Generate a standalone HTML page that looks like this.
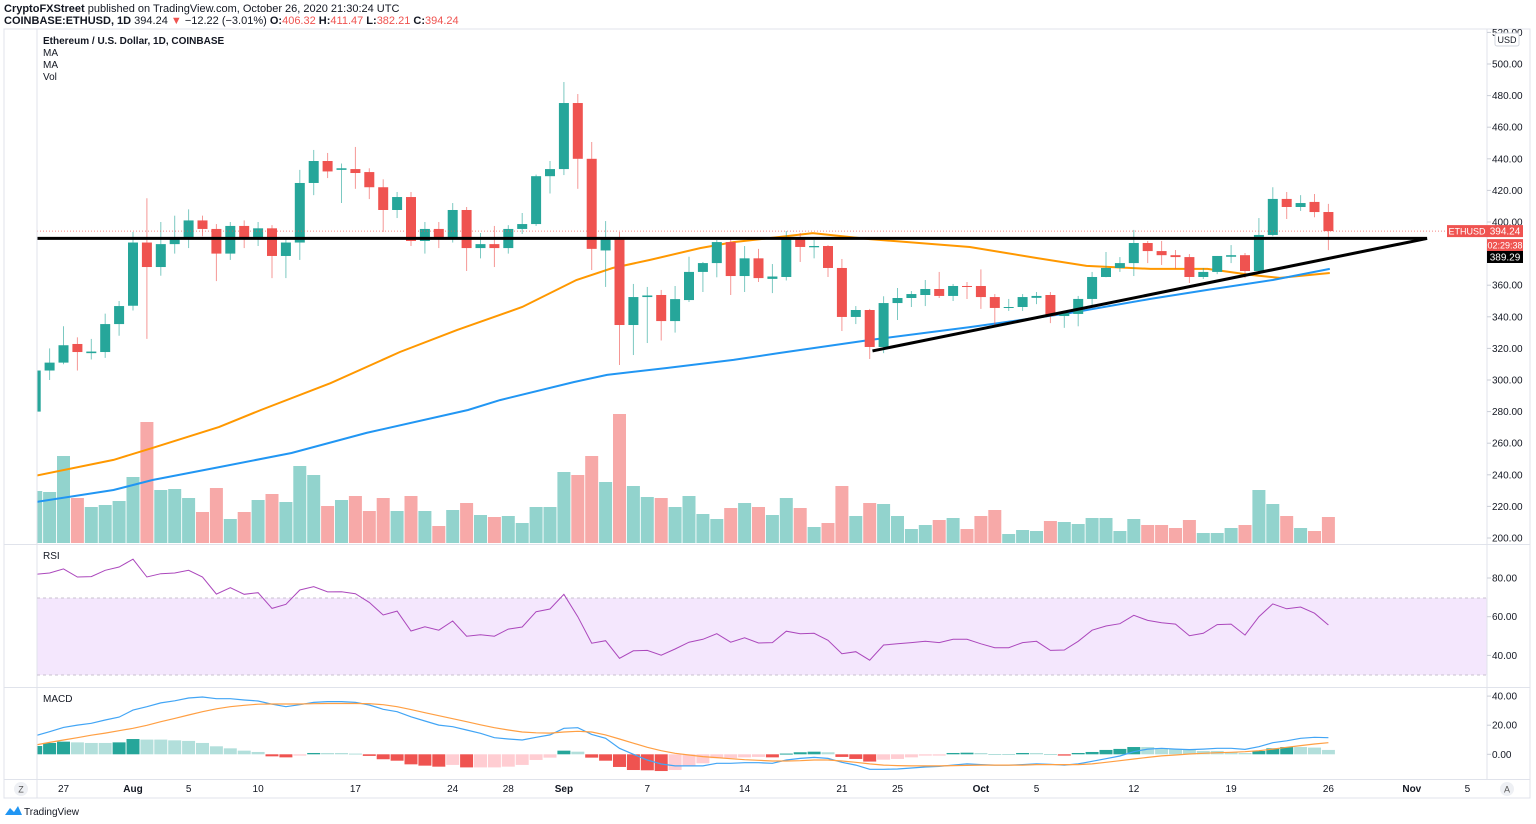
<!DOCTYPE html>
<html><head><meta charset="utf-8"><style>
html,body{margin:0;padding:0;background:#fff;}
svg{display:block;font-family:"Liberation Sans",sans-serif;}
</style></head><body>
<svg id="chart" width="1536" height="824" viewBox="0 0 1536 824">
<defs><clipPath id="plotclip"><rect x="37.5" y="29" width="1449" height="750"/></clipPath></defs>
<g id="frame">
<rect x="4" y="29" width="1526" height="769" fill="#fff" stroke="#e0e3eb" stroke-width="1"/>
<line x1="37" y1="29" x2="37" y2="798" stroke="#e0e3eb"/>
<line x1="1487" y1="29" x2="1487" y2="779" stroke="#e0e3eb"/>
<line x1="4" y1="544.5" x2="1530" y2="544.5" stroke="#e0e3eb"/>
<line x1="4" y1="687.5" x2="1530" y2="687.5" stroke="#e0e3eb"/>
<line x1="4" y1="779.5" x2="1530" y2="779.5" stroke="#e0e3eb"/>
</g>
<g font-size="11" fill="#131722">
<text x="4" y="12"><tspan font-weight="bold">CryptoFXStreet</tspan> published on TradingView.com, October 26, 2020 21:30:24 UTC</text>
<text x="4" y="24"><tspan font-weight="bold">COINBASE:ETHUSD, 1D</tspan> 394.24 <tspan fill="#ef5350">▼</tspan> −12.22 (−3.01%) <tspan font-weight="bold">O:</tspan><tspan fill="#ef5350">406.32</tspan> <tspan font-weight="bold">H:</tspan><tspan fill="#ef5350">411.47</tspan> <tspan font-weight="bold">L:</tspan><tspan fill="#ef5350">382.21</tspan> <tspan font-weight="bold">C:</tspan><tspan fill="#ef5350">394.24</tspan></text>
</g>
<g font-size="10" fill="#131722">
<text x="43" y="44" font-weight="bold">Ethereum / U.S. Dollar, 1D, COINBASE</text>
<text x="43" y="56">MA</text>
<text x="43" y="68">MA</text>
<text x="43" y="80">Vol</text>
<text x="43" y="559">RSI</text>
<text x="43" y="702">MACD</text>
</g>
<rect x="37.5" y="598" width="1449" height="77" fill="#f4e7fd"/>
<line x1="37" y1="598" x2="1487" y2="598" stroke="#c9c1cf" stroke-dasharray="3,3"/>
<line x1="37" y1="675" x2="1487" y2="675" stroke="#c9c1cf" stroke-dasharray="3,3"/>
<g clip-path="url(#plotclip)">
<g id="vol"></g>
<g id="ma"></g>
<g id="candles"></g>
<g id="lines"></g>
<g id="rsi"></g>
<g id="macd"></g>
</g>
<g id="axes" font-size="10" fill="#131722"></g>
<g>
<circle cx="21" cy="789" r="7" fill="#eef0f4"/>
<text x="21" y="792.5" font-size="9" text-anchor="middle" fill="#555">Z</text>
<circle cx="1507" cy="789" r="7" fill="#eef0f4"/>
<text x="1507" y="792.5" font-size="9" text-anchor="middle" fill="#555">A</text>
</g>
<g>
<path d="M5 815 L10 808 L14 812 L18 806 L22 815 Z" fill="#2196f3"/>
<text x="24" y="815" font-size="10" fill="#131722">TradingView</text>
</g>
</svg>
<script>
const opens=[280,306,311,322.8,317,317.7,335.4,347,387,371.5,386,390,401,395.6,380,397.5,390,396,378.5,387,424.7,438.6,433,433.5,431.6,422,407.6,415.8,388,395.6,390.5,407.6,383.5,386,383.5,395.6,398.7,429,433.5,475.3,440,382,389,334.8,352.5,353.8,337.3,350.6,368.4,374,387.3,365.8,377,364,365.2,389.2,384,384.8,370.9,339.9,344.3,320.9,348.7,351.9,353.8,357.6,353.2,359.5,359.5,352.5,345.6,346.2,352,353.8,340.5,341.8,351.3,365.2,370.9,374,386.7,381.6,379,377.8,365.2,368.4,378,379,369,391.8,414.6,409.5,412.7,406.32];
const highs=[307,320,334,327,326,342,350,393.7,415,400,404,408,404,398.7,400,401,400,398,389,433,445.6,443.7,437,447.5,434,427,419,419,400,400,412,409.5,393,397.5,398,405.7,430,438.6,488.6,481,450.6,400.6,393.7,360.8,358.9,357,359.5,378,374.7,388.6,390.5,384.8,383,373.4,394.3,393,388.6,385.4,376.6,346.8,345,353,358.2,356.3,363.3,368.4,360.8,362,370,354.4,351.3,354.4,355.7,355.7,343.7,353.2,368.4,381,377.8,395,388,388,382.3,379.7,370.9,378.5,385.4,380.4,402.5,422,419,417,417.7,411.47];
const lows=[278,300,310,306,313,314,328,344,326,366,380,383.5,391,362.6,376,383.5,384.8,364.5,364.5,376,417,427.8,412,421,414.5,393.7,402.5,384.8,380,383.5,387,369,377,371.5,380,392.4,397.5,418,429.7,421,369.6,358.9,309.5,315.8,323.4,325,330,349.4,355.7,365,353.8,355.7,362,355,363,374.7,377,365.2,331,335.4,313.3,317,338,346.2,346.8,351.9,350,351.3,345,334,343.7,343.7,348,336,333,334,346.8,365,368.4,365.8,374,372.8,370.3,361.4,363.9,367,374,364.5,368.4,391,401.9,407,403,382.21];
const closes=[306,311,322,317.7,318,335.4,346.8,387,371.5,386,390,401,395.6,380,397.5,390,396,378.5,387,424.7,438.6,432,434,431,422,407.6,415.8,388,395.6,390.5,407.6,383.5,386,383.5,395.6,398.7,429,433.5,475.3,440,383,389,334.8,352.5,353.5,337.3,351.2,368.4,374,387.3,365.8,377,364.5,365.5,389.2,384.2,384.8,370.9,339.9,344.3,320.9,348.7,351.9,354.4,357.6,353.2,359.5,359,352.5,345.6,346.2,352.5,353.2,340.5,342.4,351.3,365.2,370.9,374,386.7,381.6,379,377.8,365.2,368.4,378.5,379,369,391.8,414.6,409.5,412,406.3,394.24];
const volumes=[52,51,87,45,36,38,42,66,121,53,54,45,31,55,24,31,43,49,41,77,68,37,43,47,32,45,32,47,32,17,33,40,28,26,27,20,36,36,71,68,87,61,129,57,46,45,36,47,29,24,35,40,36,28,45,35,16,20,57,27,40,39,27,14,18,23,25,14,27,33,9,13,12,22,21,19,25,25,12,24,18,18,15,23,10,10,15,18,53,39,27,15,12,26];
const maFastIdx=[0,5.6,8.4,13.2,16.2,21.2,26.2,30.3,35,38.9,41.5,44.2,47.8,50.2,53.5,55.9,60,67.2,72,75.6,80.2,84.3,87.4,89.5,93.1];
const maFastVal=[239.4,249.4,257,270.3,281,298,317.7,331.6,346.2,363.3,370.9,376,383.5,387.3,390.5,393,389.2,384.2,377.2,372.2,370.3,370.3,366.5,364.6,367.7];
const maSlowIdx=[0,5.6,8.4,13.2,18.4,23.8,31.1,33.4,38.7,41.1,45.4,50.2,53.5,60,67.2,74.4,80.2,84.3,89,93.1];
const maSlowVal=[222.8,230.4,236.7,244.9,253.8,266.5,281,287.3,298.7,303.2,307.6,312.7,317.1,325.3,333.5,342.4,351.3,357,363.3,370.3];
const rsiVals=[81.9,82.6,84.7,80.5,80.7,84.0,85.7,89.7,80.5,82.2,82.6,84.0,80.5,71.7,75.0,71.6,72.4,64.3,66.4,73.8,75.5,72.8,72.9,71.9,67.4,60.9,62.9,52.6,54.8,53.0,57.8,49.9,50.7,49.9,53.6,54.7,62.6,64.0,71.6,60.0,46.3,47.6,38.5,42.4,42.6,40.1,43.3,46.8,48.3,51.2,46.8,49.1,46.4,46.6,52.5,51.2,51.4,47.8,40.9,41.9,37.5,45.4,46.0,46.6,47.3,46.6,48.3,48.3,46.0,44.0,44.0,46.6,47.3,42.6,42.8,47.3,53.0,55.2,56.4,60.7,58.1,56.9,56.2,50.2,51.4,55.9,56.2,50.5,60.0,66.6,64.1,65.0,61.8,55.7];
const macdVals=[12.8,15.5,18.5,20.1,21.3,23.6,25.6,30.4,32.7,35.3,36.8,38.7,39.4,38.2,38.2,37.3,36.6,34.4,32.7,34.1,35.7,36.2,36.2,35.7,33.9,30.9,29.3,25.8,22.9,20.1,19.0,16.7,14.4,11.4,10.5,9.8,11.7,13.3,17.9,18.3,13.7,11.0,4.1,0,-3.9,-6.7,-8.0,-8.0,-8.0,-6.2,-6.2,-5.8,-5.8,-6.2,-3.9,-2.8,-2.1,-2.8,-5.5,-7.4,-10.3,-10.3,-10.1,-9.4,-8.7,-8.3,-7.4,-6.6,-7.1,-7.4,-7.4,-7.1,-6.6,-6.9,-7.4,-6.6,-4.8,-3.0,-1.2,1.8,3.6,4.1,3.6,3.2,3.6,4.1,4.1,3.4,5.2,8.0,9.3,11.0,11.7,11.4];
const signalVals=[6.4,8.2,9.8,11.4,13.1,14.6,16.2,17.9,19.9,22.4,24.7,27.0,29.3,31.3,32.7,33.7,34.4,34.6,34.6,34.6,34.8,34.9,34.9,34.9,34.8,34.1,32.7,30.7,28.6,26.5,24.5,22.4,20.3,18.3,16.7,15.3,14.8,14.6,15.3,15.8,15.3,13.3,10.5,7.6,4.8,2.5,0.7,-0.5,-1.6,-2.3,-3.0,-3.7,-4.1,-4.6,-4.6,-4.4,-3.9,-3.9,-4.6,-5.5,-6.6,-7.4,-7.8,-8.0,-8.0,-8.0,-7.8,-7.6,-7.4,-7.4,-7.4,-7.4,-7.1,-7.1,-7.1,-7.1,-6.6,-5.5,-4.4,-3.2,-2.1,-1.1,-0.5,0.2,0.7,1.1,1.4,1.8,2.5,3.6,4.8,6.0,7.1,8.0];
const histVals=[5.7,7.8,8.7,8.2,7.8,7.8,8.2,10.5,10.1,10.1,9.6,9.2,7.8,5.5,4.1,2.5,1.6,-1.4,-2.1,-0.9,0.9,0.9,0.9,0.5,-1.1,-3.4,-4.4,-6.9,-7.8,-8.5,-7.3,-9.0,-9.0,-9.0,-8.5,-7.3,-3.9,-2.3,2.5,1.8,-2.3,-4.4,-8.7,-10.8,-11.0,-11.5,-10.8,-7.8,-6.2,-2.7,-2.7,-2.1,-1.8,-2.1,0.5,1.4,1.8,1.4,-1.8,-3.2,-5.0,-3.7,-3.2,-2.1,-0.9,-0.9,0.9,1.1,0.9,0.2,0.2,0.9,0.9,0.2,-0.9,0.9,1.6,3.0,3.7,5.0,5.0,4.1,3.7,3.2,2.3,2.3,1.4,0.9,2.3,4.1,5.0,5.0,4.6,3.0];
const priceTicks=[200,220,240,260,280,300,320,340,360,380,400,420,440,460,480,500,520];
const rsiTicks=[80,60,40];
const macdTicks=[40,20,0];
const timeTickIdx=[2,7,11,16,23,30,34,38,44,51,58,62,68,72,79,86,93,99,103];
const timeTickLabels=["27","Aug","5","10","17","24","28","Sep","7","14","21","25","Oct","5","12","19","26","Nov","5"];
const resistanceLevel=389.6;
const trendStart=[60.2,318.4], trendEnd=[100.1,389.6];

const NS='http://www.w3.org/2000/svg';
const X=i=>35.7+13.9*i;
const PY=p=>538-(p-200)*1.58;
const VY=v=>543-v;
const RY=v=>616.7-(v-60)*1.935;
const MY=v=>754.3-v*1.455;
function mk(tag,attrs,parent){const e=document.createElementNS(NS,tag);for(const k in attrs)e.setAttribute(k,attrs[k]);parent.appendChild(e);return e;}
const G=id=>document.getElementById(id);
const UP='#26a69a',DN='#ef5350';

const gv=G('vol');


volumes.forEach((v,i)=>{const up=closes[i]>=opens[i];
 const r=mk('rect',{x:X(i)-6.5,y:VY(v),width:13,height:v,fill:up?'#92d3cd':'#f7a9a8'},gv);
 
 });

const gm=G('ma');


const pf=maFastIdx.map((d,k)=>X(d).toFixed(1)+','+PY(maFastVal[k]).toFixed(1)).join(' ');
const l1=mk('polyline',{points:pf,fill:'none',stroke:'#ff9800','stroke-width':2},gm);


const ps=maSlowIdx.map((d,k)=>X(d).toFixed(1)+','+PY(maSlowVal[k]).toFixed(1)).join(' ');
const l2=mk('polyline',{points:ps,fill:'none',stroke:'#2196f3','stroke-width':2},gm);



const gc=G('candles');


opens.forEach((o,i)=>{const c=closes[i],up=c>=o,col=up?UP:DN,x=X(i);
 const g=mk('g',{},gc);
 
 
 mk('line',{x1:x,x2:x,y1:PY(highs[i]),y2:PY(lows[i]),stroke:col,'stroke-width':1,opacity:0.6},g);
 const top=PY(Math.max(o,c)),bot=PY(Math.min(o,c));
 mk('rect',{x:x-5,y:top,width:10,height:Math.max(1,bot-top),fill:col},g);});

const gl=G('lines');
const cp=mk('line',{x1:37,x2:1487,y1:PY(closes[closes.length-1]),y2:PY(closes[closes.length-1]),stroke:'#ef5350','stroke-dasharray':'1,2','stroke-width':1,opacity:0.7},gl);


const hl=mk('line',{x1:37,x2:X(trendEnd[0]),y1:PY(resistanceLevel),y2:PY(resistanceLevel),stroke:'#000','stroke-width':3},gl);


const tl=mk('line',{x1:X(trendStart[0]),y1:PY(trendStart[1]),x2:X(trendEnd[0]),y2:PY(trendEnd[1]),stroke:'#000','stroke-width':3},gl);



const gr=G('rsi');
const rl=mk('polyline',{points:rsiVals.map((v,i)=>X(i).toFixed(1)+','+RY(v).toFixed(1)).join(' '),fill:'none',stroke:'#ab47bc','stroke-width':1},gr);



const gd=G('macd');
histVals.forEach((h,i)=>{const prev=i?histVals[i-1]:0;let col;
 if(h>=0)col=h>prev?'#26a69a':'#b2dfdb';else col=h<prev?'#ef5350':'#ffcdd2';
 const y1=MY(Math.max(h,0)),y2=MY(Math.min(h,0));
 const r=mk('rect',{x:X(i)-6.5,y:y1,width:13,height:Math.max(1,y2-y1),fill:col},gd);
 
 });
const ml=mk('polyline',{points:macdVals.map((v,i)=>X(i).toFixed(1)+','+MY(v).toFixed(1)).join(' '),fill:'none',stroke:'#42a5f5','stroke-width':1.2},gd);


const sl=mk('polyline',{points:signalVals.map((v,i)=>X(i).toFixed(1)+','+MY(v).toFixed(1)).join(' '),fill:'none',stroke:'#ff9f43','stroke-width':1.2},gd);



const ga=G('axes');


function tick(y,label,name){if(y<30)return;mk('line',{x1:1487,x2:1491,y1:y,y2:y,stroke:'#c9cdd6'},ga);
 const t=mk('text',{x:1492,y:y+3.5},ga);t.textContent=label;
 
 }
priceTicks.forEach(p=>tick(PY(p),p.toFixed(2),'price-tick-label'));
rsiTicks.forEach(v=>tick(RY(v),v.toFixed(2),'rsi-tick-label'));
macdTicks.forEach(v=>tick(MY(v),v.toFixed(2),'macd-tick-label'));
timeTickIdx.forEach((d,k)=>{const t=mk('text',{x:X(d),y:792,'text-anchor':'middle'},ga);t.textContent=timeTickLabels[k];
 if(/[A-Z]/.test(timeTickLabels[k]))t.setAttribute('font-weight','bold');
 
 });
const ub=mk('rect',{x:1495,y:33,width:24,height:13,rx:2,fill:'#fff',stroke:'#d1d4dc'},ga);


const ut=mk('text',{x:1507,y:43,'text-anchor':'middle','font-size':'9'},ga);ut.textContent='USD';
function box(x,y,w,h,fill,label,name,fs){const g=mk('g',{},ga);
 
 
 mk('rect',{x:x,y:y,width:w,height:h,fill:fill},g);
 const t=mk('text',{x:x+w/2,y:y+h-2.5,'text-anchor':'middle',fill:'#fff','font-size':fs||'10'},g);t.textContent=label;}
const cy=PY(closes[closes.length-1]);
box(1447,cy-6,40,12,'#ef5350','ETHUSD','symbol-price-tag','9');
box(1487,cy-6,36,12,'#ef5350','394.24','last-price-label');
box(1487,cy+8,36,12,'#ef5350','02:29:38','countdown-label','9');
box(1487,251,36,12,'#000','389.29','trendline-price-label');
</script>
</body></html>
